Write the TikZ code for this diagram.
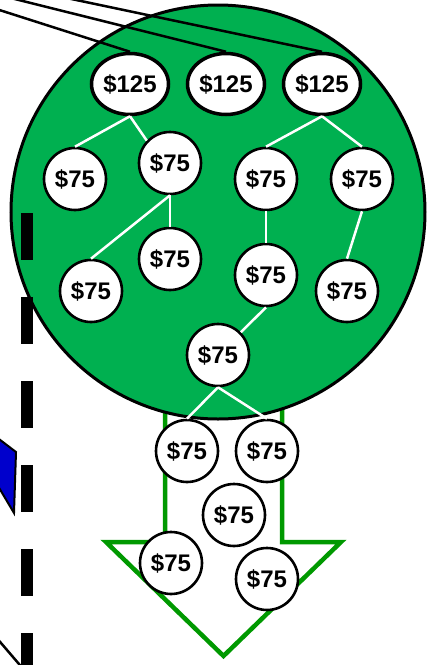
\documentclass[tikz,border=0pt]{standalone}
\usepackage{fontspec}
\setmainfont{Liberation Sans}
\usetikzlibrary{shapes.geometric}
\definecolor{circgreen}{RGB}{0,176,80}
\definecolor{arrowgreen}{RGB}{0,153,0}
\definecolor{flagblue}{RGB}{0,0,204}
\begin{document}
\begin{tikzpicture}[x=1pt,y=-1pt,
  coin/.style={circle,draw=black,line width=2.6pt,fill=white,minimum size=62pt,inner sep=0pt,font=\fontsize{24}{26}\selectfont\bfseries},
  bigcoin/.style={ellipse,draw=black,line width=3.5pt,fill=white,minimum width=77pt,minimum height=61pt,inner sep=0pt,font=\fontsize{24}{26}\selectfont\bfseries},
  link/.style={white,line width=2.5pt},
  wire/.style={black,line width=2.5pt}]
\useasboundingbox (0,0) rectangle (430,665);
\clip (0,0) rectangle (430,665);
% green arrow
\draw[arrowgreen,line width=4.5pt,fill=white,line join=miter]
  (165,380) -- (165,542) -- (106,542) -- (223.5,656) -- (341,542) -- (282,542) -- (282,380) -- cycle;
% green circle
\node[circle,fill=circgreen,draw=black,line width=3pt,minimum size=414pt,inner sep=0pt] (tree) at (218,212) {};
% blue shape at left
\filldraw[fill=flagblue,draw=black,line width=2pt] (-5,436) -- (16,452) -- (14,513) -- (-5,481) -- cycle;
% dashed line
\coordinate (dtop) at (27,213);
\coordinate (dbot) at (27,700);
\draw[line width=12pt,dash pattern=on 47pt off 37pt] (dtop) -- (dbot);
% bottom-left line
\coordinate (b1) at (-5,636);
\coordinate (b2) at (25,671);
\draw[wire] (b1) -- (b2);
% nodes
\node[bigcoin] (m1) at (130,84) {\$125};
\node[bigcoin] (m2) at (226,84) {\$125};
\node[bigcoin] (m3) at (322,84) {\$125};
% top wires
\coordinate (t1) at (-10,7);
\coordinate (t2) at (0,-4.7);
\coordinate (t3) at (60,-3.4);
\draw[wire] (t1) -- (m1.north);
\draw[wire] (t2) -- (m2.north);
\draw[wire] (t3) -- (m3.north);
\node[coin] (A) at (75,179) {\$75};
\node[coin] (B) at (170,163) {\$75};
\node[coin] (C) at (266,179) {\$75};
\node[coin] (D) at (362,179) {\$75};
\node[coin] (E) at (170,259) {\$75};
\node[coin] (F) at (91,291) {\$75};
\node[coin] (G) at (266,275) {\$75};
\node[coin] (H) at (347,291) {\$75};
\node[coin] (I) at (218,355) {\$75};
\node[coin] (J) at (187,451) {\$75};
\node[coin] (K) at (267,451) {\$75};
\node[coin] (L) at (234,515) {\$75};
\node[coin] (M) at (171,563) {\$75};
\node[coin] (N) at (267,579) {\$75};
% white links
\draw[link] (m1.south) -- (A.north);
\draw[link] (m1.south) -- (B.136);
\draw[link] (m3.south) -- (C.north);
\draw[link] (m3.south) -- (D.north);
\draw[link] (B.south) -- (E.north);
\draw[link] (B.south) -- (F.north);
\draw[link] (C.south) -- (G.north);
\draw[link] (D.south) -- (H.north);
\draw[link] (G.south) -- (I);
\draw[link] (I.south) -- (J.north);
\draw[link] (I.south) -- (K.north);
\end{tikzpicture}
\end{document}
